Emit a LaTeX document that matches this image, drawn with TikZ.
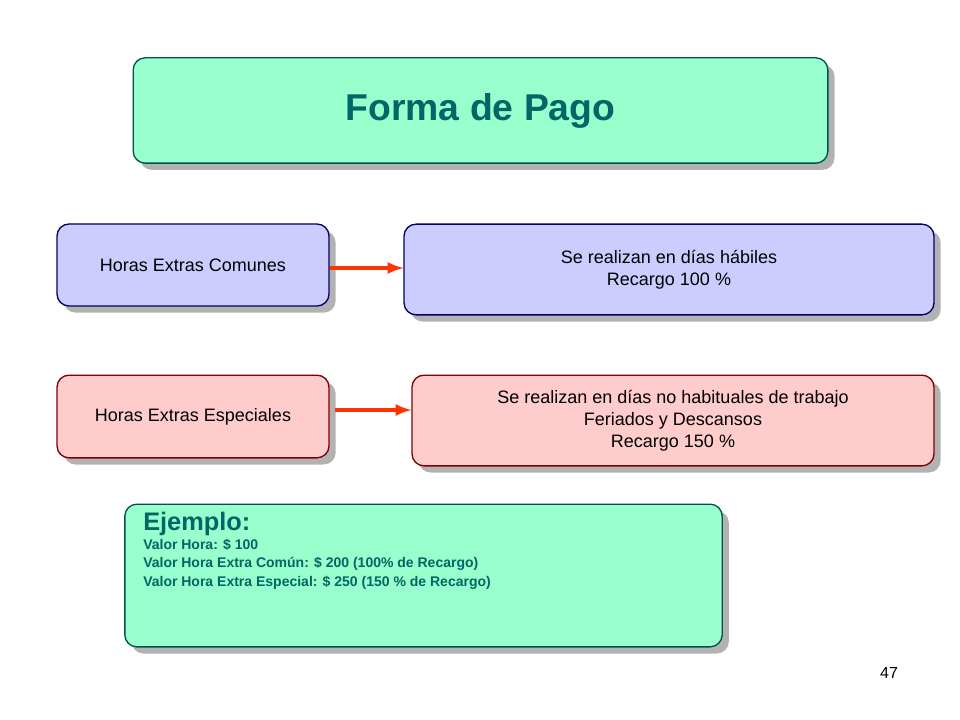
\documentclass[tikz,border=0pt]{standalone}
\usepackage{fontspec}
\setmainfont{Liberation Sans}
\usetikzlibrary{shadows}
\definecolor{mint}{HTML}{99FFCC}
\definecolor{lilac}{HTML}{CCCCFF}
\definecolor{rose}{HTML}{FFCCCC}
\definecolor{teal}{HTML}{006666}
\definecolor{arrowred}{HTML}{FF3300}
\tikzset{
  card/.style={rounded corners=9pt, line width=1pt,
    drop shadow={shadow xshift=5pt, shadow yshift=-5pt, fill=black!30, opacity=1},
    align=center, font=\fontsize{13.5}{16.5}\selectfont},
  greencard/.style={card, fill=mint, draw=teal!80!black},
  bluecard/.style={card, fill=lilac, draw=blue!40!black},
  redcard/.style={card, fill=rose, draw=red!50!black},
  linkarrow/.style={-latex, line width=3pt, arrowred}
}
\begin{document}
\begin{tikzpicture}[x=0.75pt,y=-0.75pt]
\useasboundingbox (0,0) rectangle (960,720);
\node[greencard, minimum width=521pt, minimum height=79pt, font=\fontsize{28}{32}\selectfont\bfseries, text=teal] (title) at (480.5,110.5) {Forma de Pago};
\node[bluecard, minimum width=204pt, minimum height=61.5pt] (comunes) at (193,265) {Horas Extras Comunes};
\node[bluecard, minimum width=397.5pt, minimum height=68pt] (habiles) at (669,269.5) {Se realizan en días hábiles\\Recargo 100 \%};
\node[redcard, minimum width=204pt, minimum height=62pt] (especiales) at (193,416.5) {Horas Extras Especiales};
\node[redcard, minimum width=391.5pt, minimum height=68pt] (feriados) at (673,420.5) {Se realizan en días no habituales de trabajo\\Feriados y Descansos\\Recargo 150 \%};
\node[greencard, minimum width=448pt, minimum height=107pt] (ejemplo) at (423.5,575.5) {};
\node[anchor=north west, align=left, text=teal, inner sep=0pt, font=\fontsize{10.5}{14}\selectfont\bfseries] (ejtext) at (143,512)
  {{\fontsize{19}{22}\selectfont Ejemplo:}\\Valor Hora: \$ 100\\Valor Hora Extra Común: \$ 200 (100\% de Recargo)\\Valor Hora Extra Especial: \$ 250 (150 \% de Recargo)};
\node[font=\fontsize{12}{14}\selectfont] (page) at (889,673) {47};
\draw[linkarrow] (comunes.east |- 0,268) -- (habiles.west |- 0,268);
\draw[linkarrow] ([xshift=4pt]especiales.east |- 0,410) -- (feriados.west |- 0,410);
\end{tikzpicture}
\end{document}
